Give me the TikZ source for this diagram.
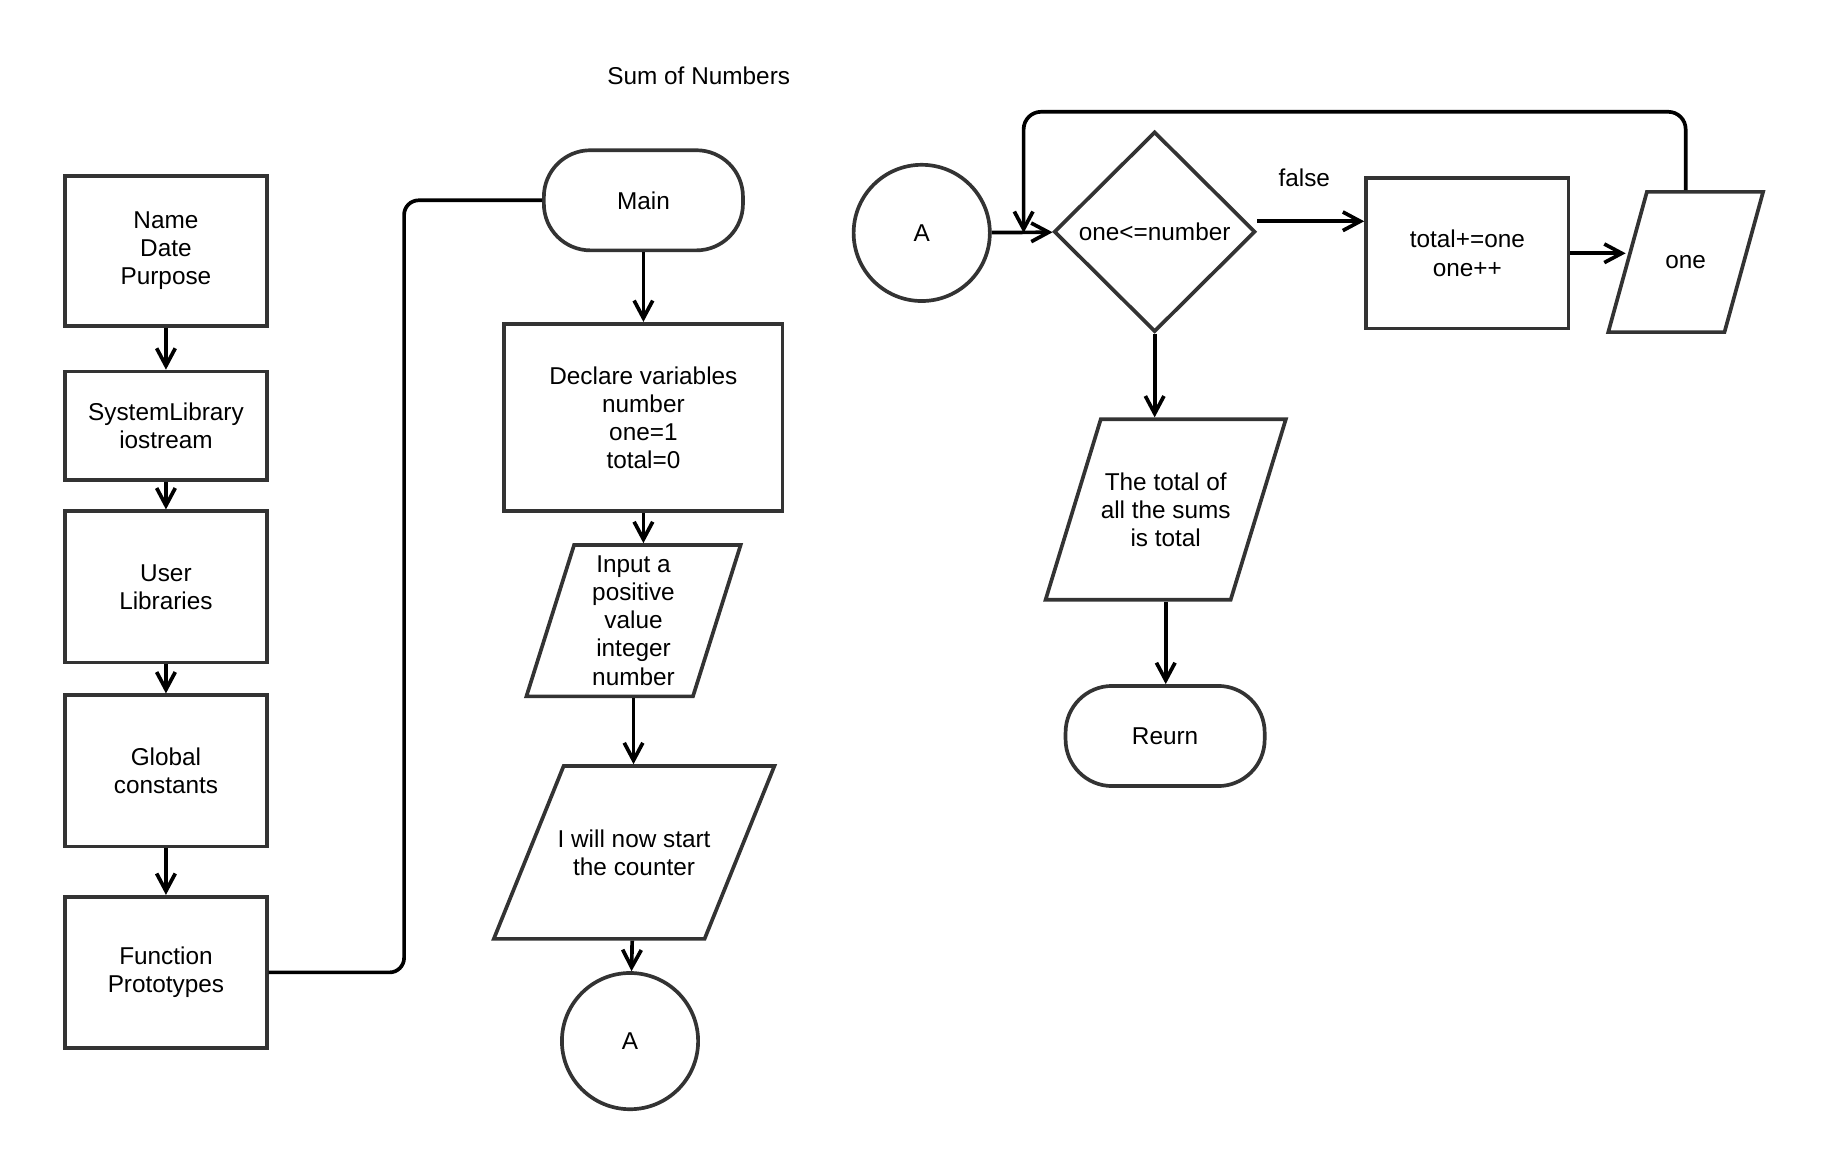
\documentclass[tikz,border=0pt]{standalone}
\usepackage{fontspec}
\setmainfont{Liberation Sans}
\usetikzlibrary{arrows.meta,shapes.geometric}
\definecolor{edgegray}{HTML}{333333}
\tikzset{>={Straight Barb[length=3mm,width=3.2mm]}}
\tikzset{
  note/.style={font=\fontsize{11.9}{13.7}\selectfont},
  shapebase/.style={note,draw=edgegray,line width=1.8pt,align=center,inner sep=0pt},
  procbox/.style={shapebase,rectangle,minimum width=3.46cm},
  termbox/.style={shapebase,rectangle,rounded corners=0.8cm,minimum width=3.42cm,minimum height=1.72cm},
  iobox/.style={shapebase,trapezium,trapezium stretches body},
  conn/.style={shapebase,circle,minimum size=2.34cm},
  decision/.style={shapebase,diamond,minimum width=3.46cm,minimum height=3.44cm},
  link/.style={draw=black,line width=1.8pt}
}

\begin{document}
\begin{tikzpicture}[x=0.02cm,y=-0.02cm]
\useasboundingbox (0,0) rectangle (1568,987);
\node[note] (title) at (600,65) {Sum of Numbers};
% header column
\foreach \name/\y/\h/\txt in {name/215.5/2.58/{Name\\Date\\Purpose},syslib/365.5/1.86/{SystemLibrary\\iostream},userlib/504/2.6/{User\\Libraries},globals/662/2.6/{Global\\constants},protos/835/2.6/{Function\\Prototypes}}
  \node[procbox,minimum height=\h cm] (\name) at (142.5,\y) {\txt};
\foreach \a/\b in {name/syslib,syslib/userlib,userlib/globals,globals/protos}
  \draw[link,->] (\a) -- (\b);
% main
\node[termbox] (main) at (552.5,172) {Main};
\node[procbox,minimum width=4.78cm,minimum height=3.22cm] (declare) at (552.5,358.5) {Declare variables\\number\\one=1\\total=0};
\node[iobox,trapezium left angle=72.5,trapezium right angle=107.5,inner ysep=0.19cm,minimum width=3.68cm,minimum height=2.6cm] (input) at (544,533) {Input a\\positive\\value\\integer\\number};
\node[iobox,trapezium left angle=68,trapezium right angle=112,inner ysep=1.09cm,inner xsep=-0.12cm,minimum width=4.82cm,minimum height=2.96cm] (counter) at (544.5,732) {I will now start\\the counter};
\node[conn] (linkA) at (541,894) {A};
\coordinate (bend) at (347,172);
\draw[link,rounded corners=0.25cm] (protos.east) -| (bend) -- (main.west);
\draw[link,->] (main) -- (declare);
\draw[link,->] (declare.south) -- (declare.south |- input.north);
\draw[link,->] (input.south) -- (input.south |- counter.north);
\draw[link,->] (counter) -- (linkA);
% loop
\node[conn] (loopA) at (791.5,200) {A};
\node[decision] (test) at (991.5,199) {one<=number};
\node[note] (falselbl) at (1120,153) {false};
\node[procbox,minimum width=3.48cm,minimum height=2.58cm] (sum) at (1260,217.5) {total+=one\\one++};
\node[iobox,trapezium left angle=74.6,trapezium right angle=105.4,inner ysep=1.09cm,minimum width=2.66cm,minimum height=2.4cm] (show) at (1447.5,225) {one};
\node[iobox,trapezium left angle=73,trapezium right angle=107,inner ysep=0.915cm,minimum width=4.12cm,minimum height=3.1cm] (result) at (1001,437.5) {The total of\\all the sums\\is total};
\node[termbox] (reurn) at (1000.5,632) {Reurn};
\coordinate (looptop) at (879,96);
\draw[link,->] (loopA) -- (test);
\draw[link,->] ([yshift=0.18cm]test.east) -- ([yshift=0.18cm]test.east -| sum.west);
\draw[link,->] (sum.east) -- (sum.east -| show.west);
\draw[link,->,rounded corners=0.3cm] (show.north) |- (looptop) -- (looptop |- loopA.east);
\draw[link,->] (test) -- (test.south |- result.north);
\draw[link,->] (result.south) -- (result.south |- reurn.north);
\end{tikzpicture}
\end{document}
